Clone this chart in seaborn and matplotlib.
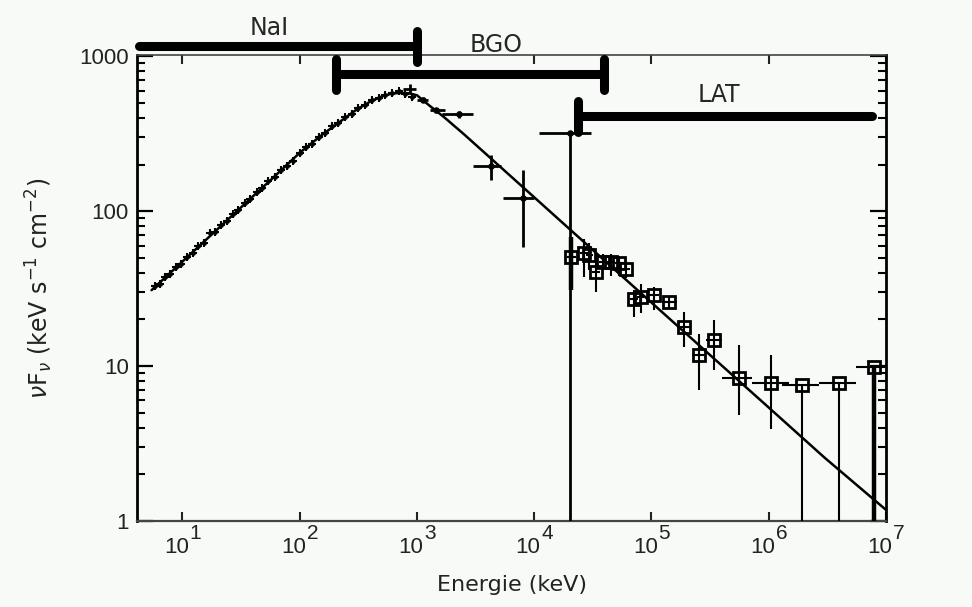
import numpy as np
import pandas as pd
import matplotlib
matplotlib.use("Agg")
import matplotlib.pyplot as plt
from matplotlib.ticker import LogLocator, NullLocator, FixedLocator, FixedFormatter
import seaborn as sns

# ---- spectral model (keV, keV s^-1 cm^-2) ----
model_e = [5.45, 8.3, 15, 25, 40, 60, 100, 150, 200, 300, 400, 500, 600, 700,
           850, 1000, 1300, 1700, 2500, 4000, 8000, 2e4, 5e4, 1e5, 3e5, 1e6, 3e6, 1e7]
model_f = [30.9, 41.5, 62.8, 89.8, 124.8, 165.6, 238, 305, 358, 448, 510, 550, 572, 580,
           577, 560, 475, 405, 315, 229, 143, 76.7, 41.1, 25.7, 12.2, 5.4, 2.56, 1.18]

# ---- NaI points ----
nai_e = [5.8, 6.4, 7.1, 7.9, 8.8, 9.8, 11, 12.3, 13.7, 15.3, 17.1, 19.1, 21.4, 24, 27,
         30, 34, 38, 43, 48, 54, 61, 69, 78, 88, 100, 113, 128, 145, 165, 188, 214,
         244, 278, 317, 362, 413, 471, 537, 612, 698, 796, 907]
nai_f = [32.8, 34.0, 37.6, 39.5, 43.6, 45.8, 50.9, 53.5, 59.3, 62.4, 72.0, 73.2, 81.5,
         86.4, 96.2, 101.1, 113.5, 119.6, 133.0, 140.5, 156.0, 165.8, 184, 195.5, 212,
         236, 259, 273, 302, 320, 352, 368, 405, 426, 463, 481, 522, 535, 566, 581,
         598, 570, 548]

# ---- BGO points ----
bgo_e = [867, 1120, 1450, 2300, 4290, 8070, 20300]
bgo_f = [619, 524, 448, 422, 195, 121, 320]
bgo_f_lo = [574, 505, 432, 400, 158, 58.8, 0.5]
bgo_f_hi = [666, 545, 465, 445, 229, 184, 320]
bgo_e_lo = [760, 1000, 1300, 1650, 3000, 5400, 11000]
bgo_e_hi = [990, 1250, 1750, 3000, 5200, 10000, 30400]

# ---- LAT points ----
lat_e = [20500, 26700, 29500, 33600, 38300, 45100, 53100, 60500, 71200, 81200,
         105000, 141000, 190000, 255000, 339000, 560000, 1.04e6, 1.93e6, 3.97e6, 7.9e6]
lat_f = [50.7, 53.3, 52.0, 40.6, 47.1, 47.1, 46.0, 42.6, 27.3, 28.0,
         28.8, 26.0, 17.9, 11.8, 14.7, 8.34, 7.72, 7.53, 7.8, 9.9]
lat_f_lo = [30.9, 37.6, 42.0, 30.2, 43.0, 38.0, 38.0, 37.0, 20.8, 22.0,
            23.0, 23.5, 13.3, 7.0, 9.4, 4.8, 3.9, 0.5, 0.5, 0.5]
lat_f_hi = [68.2, 66.6, 62.0, 47.1, 53.0, 53.0, 51.0, 48.0, 30.9, 34.0,
            32.5, 28.5, 22.4, 16.2, 19.8, 13.7, 11.8, 7.53, 7.8, 9.9]
lat_e_lo = [19000, 24500, 27500, 31000, 36000, 41500, 49000, 56000, 66000, 76000,
            95000, 124000, 166000, 220000, 294000, 400000, 7.2e5, 1.3e6, 2.7e6, 5.5e6]
lat_e_hi = [22500, 29000, 31500, 36500, 41000, 49000, 58000, 66000, 77000, 87000,
            117000, 164000, 218000, 294000, 403000, 720000, 1.5e6, 2.7e6, 5.5e6, 9.9e6]

# ---- instrument energy ranges ----
instruments = ["NaI", "BGO", "LAT"]
inst_lo = [4.3, 203, 23500]
inst_hi = [1000, 39500, 7.6e6]
inst_level = [1161, 765, 410]

x_decades = [1, 2, 3, 4, 5, 6, 7]
y_ticks = [1, 10, 100, 1000]
y_ticklabels = ["1", "10", "100", "1000"]

# ---------------------------------------------------------------------------
sns.set_theme(style="ticks")
plt.rcParams["font.family"] = ["DejaVu Sans"]
plt.rcParams["mathtext.fontset"] = "dejavusans"
bg = "#f8faf8"

fig, ax = plt.subplots(figsize=(9.72, 6.07), dpi=100)
fig.patch.set_facecolor(bg)
ax.set_facecolor(bg)
fig.subplots_adjust(left=0.141, right=0.9115, top=0.909, bottom=0.1417)

ax.set_xscale("log")
ax.set_yscale("log")
ax.set_xlim(4.1, 1e7)
ax.set_ylim(1, 1015)

# NaI: small crosses
ax.plot(nai_e, nai_f, ls="none", marker="+", ms=6, mew=1.5, color="black", zorder=3)
ax.plot(nai_e, nai_f, ls="none", marker="o", ms=2.4, color="black", zorder=3)

# BGO: dots with error crosses
bgo = pd.DataFrame(dict(e=bgo_e, f=bgo_f, flo=bgo_f_lo, fhi=bgo_f_hi, elo=bgo_e_lo, ehi=bgo_e_hi))
ax.errorbar(bgo.e, bgo.f,
            xerr=[bgo.e - bgo.elo, bgo.ehi - bgo.e],
            yerr=[bgo.f - bgo.flo, bgo.fhi - bgo.f],
            fmt="none", ecolor="black", elinewidth=2.0, capsize=0, zorder=3)
sns.scatterplot(data=bgo.iloc[1:], x="e", y="f", ax=ax, color="black", s=22,
                edgecolor="black", linewidth=0, zorder=4)

# LAT: open squares with error crosses
lat = pd.DataFrame(dict(e=lat_e, f=lat_f, flo=lat_f_lo, fhi=lat_f_hi, elo=lat_e_lo, ehi=lat_e_hi))
ax.errorbar(lat.e, lat.f,
            xerr=[lat.e - lat.elo, lat.ehi - lat.e],
            yerr=[lat.f - lat.flo, lat.fhi - lat.f],
            fmt="s", ms=8.5, mfc="none", mec="black", mew=2.0,
            ecolor="black", elinewidth=1.5, capsize=0, zorder=3)
edge = lat.iloc[[0, -1]]
ax.errorbar(edge.e, edge.f, yerr=[edge.f - edge.flo, edge.fhi - edge.f],
            fmt="none", ecolor="black", elinewidth=3.2, capsize=0, zorder=3)

# spectral model
sns.lineplot(x=model_e, y=model_f, ax=ax, color="black", lw=1.8,
             estimator=None, sort=False, zorder=5)

# instrument range bars above the spectrum
cap_dex = 0.1
for name, lo, hi, lev in zip(instruments, inst_lo, inst_hi, inst_level):
    ax.plot([lo, hi], [lev, lev], color="black", lw=6.5, solid_capstyle="round",
            clip_on=False, zorder=6)
    ends = {"NaI": [hi], "BGO": [lo, hi], "LAT": [lo]}[name]
    for xe in ends:
        ax.plot([xe, xe], [lev * 10 ** -cap_dex, lev * 10 ** cap_dex], color="black",
                lw=6.5, solid_capstyle="round", clip_on=False, zorder=6)

ax.text(55, 1514, "NaI", ha="center", va="center", fontsize=17)
ax.text(4750, 1190, "BGO", ha="center", va="center", fontsize=17)
ax.text(3.78e5, 560, "LAT", ha="center", va="center", fontsize=17)

# axes frame and ticks
for side, (lw, col) in {"left": (2.0, "black"), "right": (2.0, "black"),
                        "bottom": (1.6, "#444444"), "top": (1.2, "#444444")}.items():
    ax.spines[side].set_linewidth(lw)
    ax.spines[side].set_color(col)

ax.xaxis.set_major_locator(FixedLocator([10.0 ** d for d in x_decades]))
ax.xaxis.set_minor_locator(NullLocator())
ax.tick_params(axis="x", which="major", direction="in", length=6.5, width=1.5,
               top=True, bottom=True, labelbottom=False, color="#222222")
ax.yaxis.set_major_locator(FixedLocator(y_ticks))
ax.yaxis.set_major_formatter(FixedFormatter(y_ticklabels))
ax.yaxis.set_minor_locator(LogLocator(base=10, subs=np.arange(2, 10), numticks=20))
ax.tick_params(axis="y", which="major", direction="in", length=11.5, width=1.6,
               left=True, right=True, labelsize=16, pad=6, color="black")
ax.tick_params(axis="y", which="minor", direction="in", length=5.5, width=1.5,
               left=True, right=True, color="black")
for lab in ax.get_yticklabels():
    lab.set_fontfamily("Liberation Sans")
    lab.set_color("#222222")

# decade labels on the energy axis
for d in x_decades:
    ax.annotate("10", xy=(10.0 ** d, 0), xycoords=("data", "axes fraction"),
                xytext=(-4.5, -11.5), textcoords="offset points", ha="center", va="top",
                fontsize=16, family="Liberation Sans", color="#222222", annotation_clip=False)
    ax.annotate(str(d), xy=(10.0 ** d, 0), xycoords=("data", "axes fraction"),
                xytext=(5.0, -2.5), textcoords="offset points", ha="left", va="top",
                fontsize=15, family="Liberation Sans", color="#222222", annotation_clip=False)

ax.set_xlabel("Energie (keV)", fontsize=16, color="#222222")
ax.xaxis.set_label_coords(0.5, -0.115)
ax.set_ylabel(r"$\nu$F$_\nu$ (keV s$^{-1}$ cm$^{-2}$)", fontsize=17, color="#222222")
ax.yaxis.set_label_coords(-0.11, 0.5)

fig.savefig("out.png", dpi=100, facecolor=bg)
